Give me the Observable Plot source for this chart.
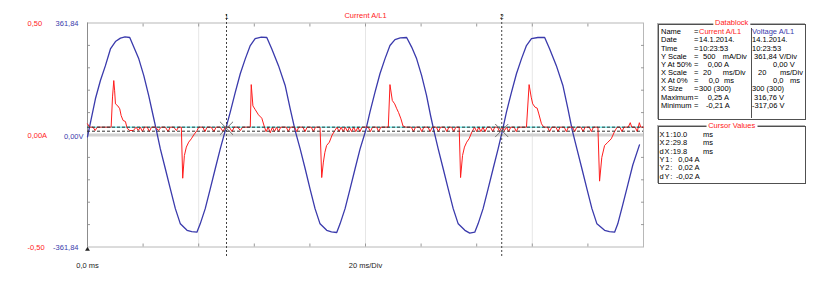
<!DOCTYPE html>
<html>
<head>
<meta charset="utf-8">
<script src="https://cdn.jsdelivr.net/npm/d3@7"></script>
<script src="https://cdn.jsdelivr.net/npm/@observablehq/plot@0.6"></script>
<style>
  html, body { margin: 0; padding: 0; background: #fff; }
  #root { position: relative; width: 822px; height: 282px; overflow: hidden; font-family: "Liberation Sans", Arial, sans-serif; font-size: 7.5px; }
  #root svg { position: absolute; left: 0; top: 0; }
  .cell { position: absolute; line-height: 8px; height: 8px; white-space: pre; color: #000; }
  .cell.lab { letter-spacing: -0.6px; }
  .box { position: absolute; box-sizing: border-box; border: 1px solid #505050; box-shadow: -1px -1px 0 #b0b0b0; }
  .ttl { position: absolute; line-height: 8px; height: 8px; background: #fff; padding: 0 2px; color: #ff2020; transform: translateX(-50%); white-space: pre; }
</style>
</head>
<body>
<div id="root"></div>
<script>
// ---------- data ----------
const chartTitle = "Current A/L1";
const xStartLabel = "0,0 ms";
const xScaleLabel = "20 ms/Div";
const xDivisions = [4, 8, 12, 16, 20, 24, 28, 32, 36];          // ms
const xMajorLines = [8, 20, 32];                                 // ms
const yDivisions = [-0.4, -0.3, -0.2, -0.1, 0.1, 0.2, 0.3, 0.4]; // A
const yLabelValues = [0.5, 0, -0.5];
const currentTickLabels = ["0,50", "0,00A", "-0,50"];
const voltageTickLabels = ["361,84", "0,00V", "-361,84"];
const voltFullScale = 361.84; // V shown at the top edge

// voltage trace [ms, V]
const voltageTrace = [
  [0, -6], [0.17, 31], [0.57, 117], [0.93, 176], [1.29, 224], [1.65, 278], [2.01, 302], [2.37, 313],
  [2.7, 316.76], [3.04, 315], [3.33, 284], [3.69, 246], [4.05, 192], [4.40, 128], [4.72, 63], [4.96, 14],
  [5.24, -45], [5.60, -109], [5.96, -174], [6.32, -238], [6.68, -287], [7.16, -308], [7.5, -312], [7.87, -314],
  [8.11, -287], [8.47, -238], [8.83, -174], [9.19, -109], [9.55, -45], [9.91, 14], [10.27, 74], [10.63, 138],
  [10.99, 198], [11.35, 246], [11.71, 289], [12.06, 311], [12.5, 316], [12.90, 315], [13.26, 278], [13.74, 224],
  [14.22, 160], [14.58, 85], [14.94, 14], [15.30, -45], [15.66, -109], [16.01, -174], [16.37, -238], [16.73, -287],
  [17.21, -308], [17.55, -313], [17.93, -315], [18.17, -287], [18.53, -238], [18.89, -174], [19.25, -109], [19.61, -45],
  [20.00, 12], [20.32, 74], [20.68, 138], [21.04, 198], [21.40, 246], [21.76, 289], [22.12, 308], [22.5, 314],
  [22.96, 315], [23.32, 284], [23.68, 246], [24.04, 192], [24.39, 128], [24.68, 63], [24.92, 14], [25.23, -45],
  [25.59, -109], [25.95, -174], [26.31, -238], [26.67, -287], [27.15, -308], [27.5, -317.06], [27.86, -314], [28.10, -287],
  [28.46, -238], [28.82, -174], [29.18, -109], [29.54, -45], [29.85, 14], [30.14, 74], [30.50, 138], [30.86, 198],
  [31.22, 246], [31.58, 289], [31.94, 311], [32.4, 315], [32.89, 315], [33.25, 278], [33.73, 224], [34.20, 160],
  [34.56, 85], [34.88, 14], [35.21, -45], [35.57, -109], [35.93, -174], [36.29, -238], [36.65, -287], [37.20, -308],
  [37.55, -312], [37.92, -314], [38.15, -287], [38.51, -225], [38.87, -161], [39.23, -97], [39.71, -32]
];

// current trace [ms, A]
const currentTrace = [
  [0, 0.05], [0.15, 0.035], [0.4, 0.035], [0.55, 0.02], [0.7, 0.035], [1.0, 0.035], [1.2, 0.035], [1.70, 0.035],
  [1.80, 0.17], [1.89, 0.243], [1.95, 0.2], [2.01, 0.139], [2.18, 0.13], [2.32, 0.117], [2.42, 0.087], [2.56, 0.065],
  [2.73, 0.06], [2.85, 0.03], [3.04, 0.02], [3.3, 0.02], [3.5, 0.035], [3.65, 0.02], [3.8, 0.035], [3.95, 0.015],
  [4.1, 0.035], [4.3, 0.035], [4.45, 0.015], [4.6, 0.035], [4.9, 0.035], [5.1, 0.02], [5.3, 0.035], [5.6, 0.035],
  [5.8, 0.015], [5.95, 0.035], [6.2, 0.035], [6.4, 0.02], [6.55, 0.035], [6.75, 0.035],
  [6.85, -0.193], [6.97, -0.092], [7.11, -0.054], [7.28, -0.032], [7.47, -0.017], [7.64, 0.0], [7.88, 0.02], [8.0, 0.035],
  [8.3, 0.035], [8.45, 0.015], [8.6, 0.035], [8.9, 0.035], [9.1, 0.015], [9.25, 0.035], [9.55, 0.035], [9.75, 0.015],
  [9.9, 0.035], [10.2, 0.035], [10.4, 0.015], [10.55, 0.035], [10.8, 0.035], [11.0, 0.02], [11.15, 0.035], [11.71, 0.035],
  [11.78, 0.225], [11.9, 0.13], [12.05, 0.115], [12.3, 0.09], [12.54, 0.075], [12.71, 0.04], [12.85, 0.015], [13.0, 0.035],
  [13.15, 0.01], [13.3, 0.035], [13.45, 0.015], [13.6, 0.035], [13.75, 0.015], [13.9, 0.035], [14.3, 0.035], [14.45, 0.015],
  [14.6, 0.035], [14.9, 0.035], [15.05, 0.015], [15.2, 0.035], [15.5, 0.035], [15.65, 0.015], [15.8, 0.035], [16.1, 0.035],
  [16.25, 0.015], [16.4, 0.035], [16.73, 0.035],
  [16.85, -0.19], [16.97, -0.121], [17.08, -0.077], [17.2, -0.047], [17.4, -0.032], [17.6, 0.0], [17.8, 0.02], [17.95, 0.035],
  [18.1, 0.015], [18.25, 0.035], [18.4, 0.015], [18.55, 0.035], [18.7, 0.015], [18.85, 0.035], [19.0, 0.015], [19.15, 0.035],
  [19.3, 0.015], [19.45, 0.035], [19.6, 0.015], [19.75, 0.035], [20.2, 0.035], [20.35, 0.015], [20.5, 0.035], [20.8, 0.035],
  [20.95, 0.015], [21.1, 0.035], [21.64, 0.035],
  [21.76, 0.225], [21.93, 0.154], [22.1, 0.139], [22.25, 0.117], [22.38, 0.1], [22.55, 0.072], [22.7, 0.04], [22.9, 0.035],
  [23.3, 0.035], [23.45, 0.015], [23.6, 0.035], [23.9, 0.035], [24.05, 0.015], [24.2, 0.035], [24.5, 0.035], [24.65, 0.015],
  [24.8, 0.035], [25.1, 0.035], [25.25, 0.015], [25.4, 0.035], [25.7, 0.035], [25.85, 0.015], [26.0, 0.035], [26.2, 0.035],
  [26.35, 0.015], [26.5, 0.035], [26.74, 0.035],
  [26.84, -0.19], [26.98, -0.092], [27.12, -0.054], [27.28, -0.032], [27.45, -0.017], [27.65, 0.013], [27.85, 0.035], [28.0, 0.015],
  [28.15, 0.035], [28.3, 0.015], [28.45, 0.035], [28.6, 0.015], [28.75, 0.035], [29.0, 0.035], [29.15, 0.015], [29.3, 0.035],
  [29.5, 0.035], [29.65, 0.015], [29.8, 0.035], [30.0, 0.02], [30.15, 0.035], [30.3, 0.015], [30.45, 0.035], [30.7, 0.035],
  [30.85, 0.015], [31.0, 0.035], [31.58, 0.035],
  [31.77, 0.225], [31.92, 0.169], [32.03, 0.139], [32.2, 0.124], [32.35, 0.12], [32.47, 0.094], [32.66, 0.05], [32.83, 0.035],
  [33.1, 0.035], [33.25, 0.015], [33.4, 0.035], [33.7, 0.035], [33.85, 0.015], [34.0, 0.035], [34.3, 0.035], [34.45, 0.015],
  [34.6, 0.035], [34.9, 0.035], [35.05, 0.015], [35.2, 0.035], [35.5, 0.035], [35.65, 0.015], [35.8, 0.035], [36.1, 0.035],
  [36.25, 0.015], [36.4, 0.035], [36.72, 0.035],
  [36.84, -0.206], [37.0, -0.1], [37.2, -0.047], [37.44, -0.032], [37.68, -0.017], [37.9, 0.013], [38.1, 0.035], [38.3, 0.035],
  [38.45, 0.015], [38.6, 0.035], [38.9, 0.035], [39.05, 0.055], [39.15, 0.035], [39.4, 0.035], [39.55, 0.015], [39.7, 0.055],
  [39.8, 0.035], [40.0, 0.035]
];

// cursors
const cursorTimes = [10.0, 29.8];
const cursorNames = ["1", "2"];
const cursorLevels = [0.035, 0.017]; // Y1, Y2 (A)
const cursorHits = [[10.0, 0.03], [29.8, 0.02]];

// datablock
const dbLabels = ["Name", "Date", "Time", "Y Scale", "Y At 50%", "X Scale", "X At 0%", "X Size", "Maximum", "Minimum"];
const dbCurrent = [["Current A/L1"], ["14.1.2014."], ["10:23:53"], ["500", "mA/Div"], ["0,00 A"], ["20", "ms/Div"], ["0,0", "ms"], ["300 (300)"], ["0,25 A"], ["-0,21 A"]];
const dbVoltage = [["Voltage A/L1"], ["14.1.2014."], ["10:23:53"], ["361,84 V/Div"], ["0,00 V"], ["20", "ms/Div"], ["0,0", "ms"], ["300 (300)"], ["316,76 V"], ["-317,06 V"]];
const cvLabels = ["X 1 :", "X 2 :", "d X :", "Y 1 :", "Y 2 :", "d Y :"];
const cvValues = [["10.0", "ms"], ["29.8", "ms"], ["19.8", "ms"], ["0,04 A"], ["0,02 A"], ["-0,02 A"]];

// ---------- drawing ----------
const RED = "#ff1c1c", BLUE = "#3a3aac", FONT = '"Liberation Sans", Arial, sans-serif';
const volt = voltageTrace.map(([t, v]) => ({t, v}));
const cur = currentTrace.map(([t, a]) => ({t, a}));
const noLabel = () => "";

const chart = Plot.plot({
  width: 822, height: 282,
  marginLeft: 87, marginRight: 179, marginTop: 22.5, marginBottom: 35.5,
  x: {domain: [0, 40], axis: null},
  y: {domain: [-0.5, 0.5], axis: null},
  style: {fontFamily: FONT, fontSize: "7.5px", background: "transparent", overflow: "visible"},
  marks: [
    Plot.ruleX(xMajorLines, {stroke: "#e6e6e6"}),
    Plot.ruleY([0], {stroke: "#d2d2d2", strokeWidth: 3}),
    Plot.frame({stroke: "#b8b8b8"}),
    Plot.axisX({ticks: xDivisions, anchor: "top", tickSize: -3, tickFormat: noLabel, stroke: "#9a9a9a", label: null}),
    Plot.axisX({ticks: xDivisions, anchor: "bottom", tickSize: -3, tickFormat: noLabel, stroke: "#9a9a9a", label: null}),
    Plot.axisY({ticks: yDivisions, anchor: "left", tickSize: -3, tickFormat: noLabel, stroke: "#9a9a9a", label: null}),
    Plot.axisY({ticks: yDivisions, anchor: "right", tickSize: -3, tickFormat: noLabel, stroke: "#9a9a9a", label: null}),
    Plot.ruleX([0], {y1: -0.5, y2: 0.5, stroke: "#8c8c8c"}),
    Plot.ruleY([cursorLevels[0]], {stroke: "#3fe0e0", strokeWidth: 1}),
    Plot.line(volt, {x: "t", y: d => d.v / (2 * voltFullScale), stroke: BLUE, strokeWidth: 1.3}),
    Plot.line(cur, {x: "t", y: "a", stroke: RED, strokeWidth: 1}),
    Plot.ruleY(cursorLevels, {stroke: "#303030", strokeDasharray: "3,2"}),
    Plot.ruleX(cursorTimes, {y1: 0.538, y2: -0.551, stroke: "#404040", strokeDasharray: "2,2"}),
    Plot.dot(cursorHits, {x: d => d[0], y: d => d[1], symbol: "times", r: 6, stroke: "#707070", strokeWidth: 1}),
    Plot.text(cursorTimes, {x: d => d, y: 0.528, text: (d, i) => cursorNames[i], fontSize: 6.5, fill: "#222"}),
    Plot.dot([0], {x: d => d, y: -0.511, symbol: "triangle", r: 1.8, fill: "#222", stroke: null}),
    Plot.text([chartTitle], {x: 20, frameAnchor: "top", dy: -10, text: d => d, fill: RED}),
    Plot.text([xStartLabel], {x: 0, frameAnchor: "bottom", dy: 21, text: d => d, fill: "#222"}),
    Plot.text([xScaleLabel], {x: 20, frameAnchor: "bottom", dy: 21, text: d => d, fill: "#222"}),
    Plot.text(yLabelValues, {x: 0, y: d => d, dy: 1, text: (d, i) => currentTickLabels[i], textAnchor: "start", dx: -60, fill: RED}),
    Plot.text(yLabelValues.filter(d => d !== 0), {x: 0, y: d => d, dy: 1, text: d => voltageTickLabels[yLabelValues.indexOf(d)], textAnchor: "end", dx: -9, fill: BLUE}),
    Plot.text([0], {x: 0, y: d => d, dy: 1.5, text: d => voltageTickLabels[yLabelValues.indexOf(d)], textAnchor: "end", dx: -4, fill: BLUE})
  ]
});
const root = document.getElementById("root");
root.appendChild(chart);

// ---------- side panels ----------
function box(left, top, width, height, title, titleCx, titleCy) {
  const b = document.createElement("div");
  b.className = "box";
  Object.assign(b.style, {left: left + "px", top: top + "px", width: width + "px", height: height + "px"});
  root.appendChild(b);
  const t = document.createElement("div");
  t.className = "ttl";
  t.textContent = title;
  Object.assign(t.style, {left: titleCx + "px", top: (titleCy - 4) + "px"});
  root.appendChild(t);
}
function cell(x, cy, text, color, cls) {
  const c = document.createElement("div");
  c.className = "cell" + (cls ? " " + cls : "");
  c.textContent = text;
  Object.assign(c.style, {left: x + "px", top: (cy - 4) + "px"});
  if (color) c.style.color = color;
  root.appendChild(c);
}
box(658, 24, 148, 95.5, "Datablock", 731.7, 22.7);
const divider = document.createElement("div");
Object.assign(divider.style, {position: "absolute", left: "750.5px", top: "28px", width: "1px", height: "90px", background: "#505050"});
root.appendChild(divider);

const curX = [[699], [699], [699], [703, 722.7], [707.7], [703, 722.7], [708.7, 724], [699], [707.7], [706]];
const volX = [[752], [752], [752], [754], [773], [758, 780], [773, 790], [752], [754], [752]];
dbLabels.forEach((lab, i) => {
  const cy = 32.3 + i * 8.15;
  cell(661, cy, lab);
  cell(694, cy, "=");
  dbCurrent[i].forEach((s, j) => cell(curX[i][j], cy, s, i === 0 ? RED : null));
  dbVoltage[i].forEach((s, j) => cell(volX[i][j], cy, s, i === 0 ? BLUE : null));
});

box(658, 125.7, 148, 58.5, "Cursor Values", 731.7, 125.7);
const cvX = [[672.7, 703], [672.7, 703], [672.7, 703], [678.3], [678.3], [676]];
cvLabels.forEach((lab, i) => {
  const cy = 135 + i * 8.35;
  cell(659.5, cy, lab, null, "lab");
  cvValues[i].forEach((s, j) => cell(cvX[i][j], cy, s));
});
</script>
</body>
</html>
